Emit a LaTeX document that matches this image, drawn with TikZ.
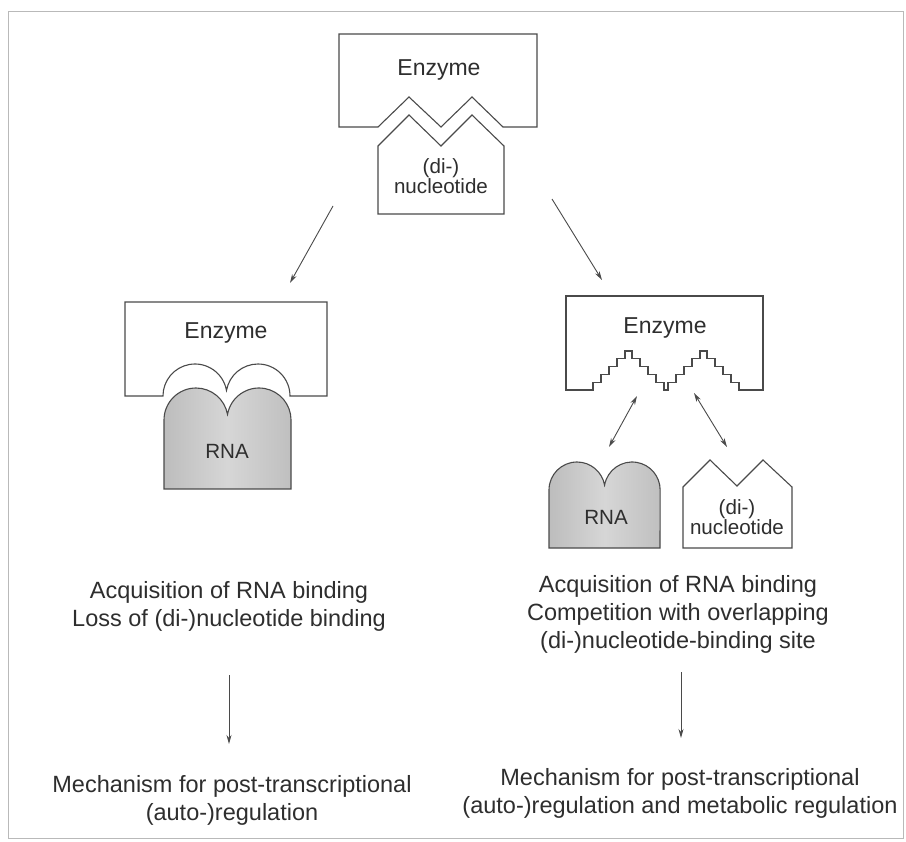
\documentclass[tikz,border=0pt]{standalone}
\usepackage{fontspec}
\setmainfont{Liberation Sans}
\usetikzlibrary{arrows.meta}
\definecolor{ink}{HTML}{4A4A4A}
\definecolor{txt}{HTML}{2E2E2E}
\begin{document}
\begin{tikzpicture}[x=1pt,y=-1pt,
  shp/.style={draw=ink, line width=1.1pt, line join=miter},
  arr/.style={draw=ink, line width=0.9pt, -{Stealth[length=9pt,width=5pt]}},
  darr/.style={draw=ink, line width=0.9pt, {Stealth[length=9pt,width=5pt]}-{Stealth[length=9pt,width=5pt]}},
  lbl/.style={text=txt, font=\fontsize{20.6}{20}\selectfont, align=center, inner sep=0pt},
  enz/.style={text=txt, font=\fontsize{23}{28}\selectfont, inner sep=0pt},
  captxt/.style={text=txt, font=\fontsize{23.5}{28}\selectfont, align=center, inner sep=0pt},
  rna/.style={left color=gray!52, right color=gray!50, middle color=gray!32}
]
\useasboundingbox (0,0) rectangle (906,842);
\fill[white] (0,0) rectangle (906,842);
\draw[gray!55, line width=1pt] (8,12) rectangle (903,838);

% ---------- top: enzyme + (di-)nucleotide ----------
\draw[shp] (339,34) -- (537,34) -- (537,127) -- (503,127) -- (472,97) -- (441,127)
  -- (409,97) -- (378,127) -- (339,127) -- cycle;
\draw[shp] (378,214) -- (378,146) -- (409,115) -- (441,146) -- (472,115) -- (504,146)
  -- (504,214) -- cycle;
\node[enz] (tenz) at (439,70) {Enzyme};
\node[lbl] (tnuc) at (441,176) {(di-)\\nucleotide};

\coordinate (tl1) at (333,206);
\coordinate (tl2) at (290,283);
\coordinate (tr1) at (552,199);
\coordinate (tr2) at (602,280);
\draw[arr] (tl1) -- (tl2);
\draw[arr] (tr1) -- (tr2);

% ---------- left: enzyme + RNA ----------
\draw[shp] (125,302) -- (327,302) -- (327,396) -- (290,396) arc[start angle=360, end angle=190, radius=32]
  arc[start angle=350, end angle=180, radius=32] -- (125,396) -- cycle;
\draw[shp, rna] (164,489) -- (164,420) arc[start angle=180, end angle=350, radius=32]
  arc[start angle=190, end angle=360, radius=32] -- (291,489) -- cycle;
\node[enz] (lenz) at (226,333) {Enzyme};
\node[lbl] (lrna) at (227,451) {RNA};

% ---------- right: enzyme with stepped site ----------
\draw[shp] (566,296) -- (763,296) -- (763,390) -- (739,390)
  -- (739,382.2) -- (731,382.2) -- (731,374.4) -- (723,374.4) -- (723,366.6) -- (715,366.6)
  -- (715,358.8) -- (707,358.8) -- (707,351) -- (700,351) -- (700,358.8) -- (692,358.8)
  -- (692,366.6) -- (684,366.6) -- (684,374.4) -- (676,374.4) -- (676,382.2) -- (668,382.2)
  -- (668,390) -- (664,390) -- (664,382.2) -- (656,382.2) -- (656,374.4) -- (648,374.4)
  -- (648,366.6) -- (640,366.6) -- (640,358.8) -- (632,358.8) -- (632,351) -- (625,351)
  -- (625,358.8) -- (617,358.8) -- (617,366.6) -- (609,366.6) -- (609,374.4) -- (601,374.4)
  -- (601,382.2) -- (593,382.2) -- (593,390) -- (566,390) -- cycle;
\node[enz] (renz) at (665,328) {Enzyme};

\draw[shp, rna] (549,548) -- (549,490) arc[start angle=180, end angle=350, radius=28]
  arc[start angle=190, end angle=360, radius=28] -- (660,548) -- cycle;
\node[lbl] (rrna) at (606,517) {RNA};

\draw[shp] (683,548) -- (683,487) -- (710,460) -- (737,486) -- (763,460) -- (792,487)
  -- (792,548) -- cycle;
\node[lbl] (rnuc) at (737,517) {(di-)\\nucleotide};

\coordinate (da1) at (637,396);
\coordinate (da2) at (609,447);
\coordinate (db1) at (694,393);
\coordinate (db2) at (727,447);
\draw[darr] (da1) -- (da2);
\draw[darr] (db1) -- (db2);

% ---------- captions ----------
\node[captxt] (lcap) at (229,606) {Acquisition of RNA binding\\Loss of (di-)nucleotide binding};
\node[captxt] (rcap) at (678,614) {Acquisition of RNA binding\\Competition with overlapping\\(di-)nucleotide-binding site};

\coordinate (lv1) at (229,675);
\coordinate (lv2) at (229,744);
\coordinate (rv1) at (681,672);
\coordinate (rv2) at (681,738);
\draw[arr] (lv1) -- (lv2);
\draw[arr] (rv1) -- (rv2);

\node[captxt] (lmech) at (232,800) {Mechanism for post-transcriptional\\(auto-)regulation};
\node[captxt] (rmech) at (680,793) {Mechanism for post-transcriptional\\(auto-)regulation and metabolic regulation};
\end{tikzpicture}
\end{document}
